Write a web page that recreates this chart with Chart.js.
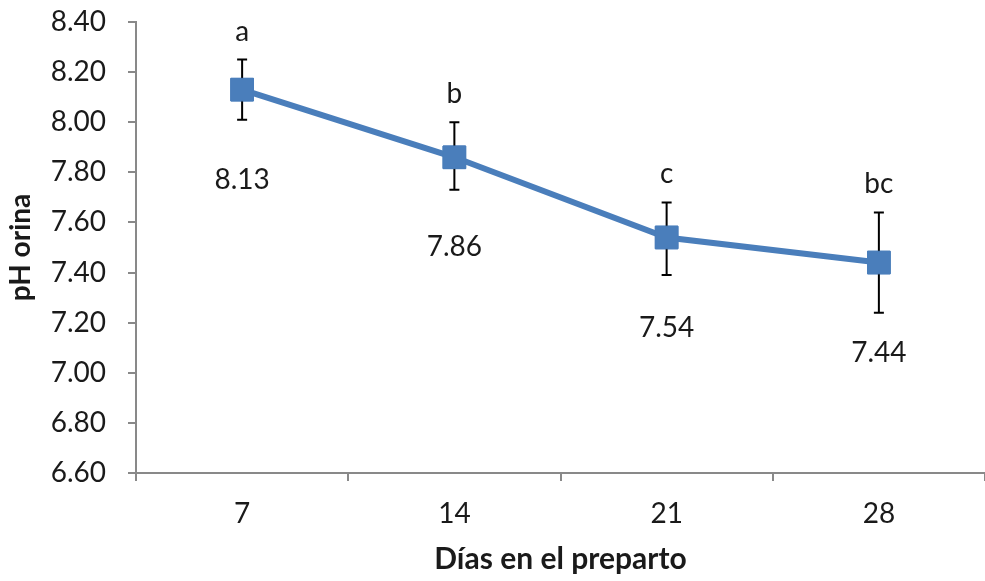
<!DOCTYPE html>
<html>
<head>
<meta charset="utf-8">
<script src="https://cdn.jsdelivr.net/npm/chart.js@4.4.1/dist/chart.umd.min.js"></script>
<style>
  html, body { margin: 0; padding: 0; background: #fff; }
  #wrap { width: 985px; height: 581px; }
</style>
</head>
<body>
<div id="wrap"><canvas id="phChart"></canvas></div>
<script>
// data
const days = ["7", "14", "21", "28"];
const phValues = [8.13, 7.86, 7.54, 7.44];
const errHigh = [8.25, 8.00, 7.68, 7.64];
const errLow = [8.01, 7.73, 7.39, 7.24];
const letters = ["a", "b", "c", "bc"];
const yTicks = [6.6, 6.8, 7.0, 7.2, 7.4, 7.6, 7.8, 8.0, 8.2, 8.4];

const axisGray = "#898989";
const blue = "#4a7ebb";
const textColor = "#1a1a1a";
const fontFam = "Lato, 'Open Sans', sans-serif";

// error bars + letters + value labels
const annotations = {
    id: "annotations",
    afterDatasetsDraw(chart) {
        const ctx = chart.ctx;
        const x = chart.scales.x;
        const y = chart.scales.y;
        ctx.save();
        ctx.strokeStyle = "#000";
        ctx.lineWidth = 2;
        days.forEach((d, i) => {
            const px = x.getPixelForValue(i);
            const top = y.getPixelForValue(errHigh[i]);
            const bot = y.getPixelForValue(errLow[i]);
            ctx.beginPath();
            ctx.moveTo(px, top); ctx.lineTo(px, bot);
            ctx.moveTo(px - 5, top); ctx.lineTo(px + 5, top);
            ctx.moveTo(px - 5, bot); ctx.lineTo(px + 5, bot);
            ctx.stroke();
        });
        // markers go back on top of the bars
        const meta = chart.getDatasetMeta(0);
        meta.data.forEach(p => p.draw(ctx));

        ctx.fillStyle = textColor;
        ctx.font = "28px " + fontFam;
        ctx.textAlign = "center";
        ctx.textBaseline = "middle";
        days.forEach((d, i) => {
            const px = x.getPixelForValue(i);
            ctx.fillText(letters[i], px, y.getPixelForValue(errHigh[i]) - 28);
            ctx.fillText(phValues[i].toFixed(2), px, y.getPixelForValue(phValues[i]) + 90);
        });
        ctx.restore();
    }
};

new Chart(document.getElementById("phChart"), {
    type: "line",
    data: {
        labels: days,
        datasets: [{
            data: phValues,
            borderColor: blue,
            backgroundColor: blue,
            borderWidth: 6,
            pointStyle: "rect",
            pointRadius: 16,
            pointBorderWidth: 1,
            pointBorderColor: blue,
            tension: 0,
            clip: false
        }]
    },
    options: {
        responsive: true,
        maintainAspectRatio: false,
        animation: false,
        layout: { autoPadding: false, padding: { top: 22, right: -8, left: 0, bottom: 0 } },
        plugins: {
            legend: { display: false },
            tooltip: { enabled: false }
        },
        scales: {
            x: {
                offset: true,
                grid: {
                    offset: true,
                    drawOnChartArea: false,
                    color: axisGray,
                    tickLength: 8,
                    lineWidth: 2
                },
                border: { color: axisGray, width: 2 },
                ticks: {
                    color: textColor,
                    font: { size: 28, family: fontFam },
                    padding: 16
                },
                title: {
                    display: true,
                    text: "Días en el preparto",
                    color: textColor,
                    font: { size: 30, weight: "bold", family: fontFam },
                    padding: { top: 2 }
                },
                afterFit(scale) {
                    scale.height = 108;
                    scale.paddingLeft = 0;
                    scale.paddingRight = 0;
                }
            },
            y: {
                min: 6.6,
                max: 8.4,
                afterBuildTicks(scale) {
                    scale.ticks = yTicks.map(v => ({ value: v }));
                },
                grid: {
                    drawOnChartArea: false,
                    color: axisGray,
                    tickLength: 8,
                    lineWidth: 2
                },
                border: { color: axisGray, width: 2 },
                ticks: {
                    color: textColor,
                    font: { size: 28, family: fontFam },
                    padding: 22,
                    callback: v => Number(v).toFixed(2)
                },
                title: {
                    display: true,
                    text: "pH orina",
                    color: textColor,
                    font: { size: 28, weight: "bold", family: fontFam },
                    padding: { top: 4, bottom: 0 }
                },
                afterFit(scale) {
                    scale.width = 136;
                    scale.paddingTop = 0;
                    scale.paddingBottom = 0;
                }
            }
        }
    },
    plugins: [annotations]
});
</script>
</body>
</html>
